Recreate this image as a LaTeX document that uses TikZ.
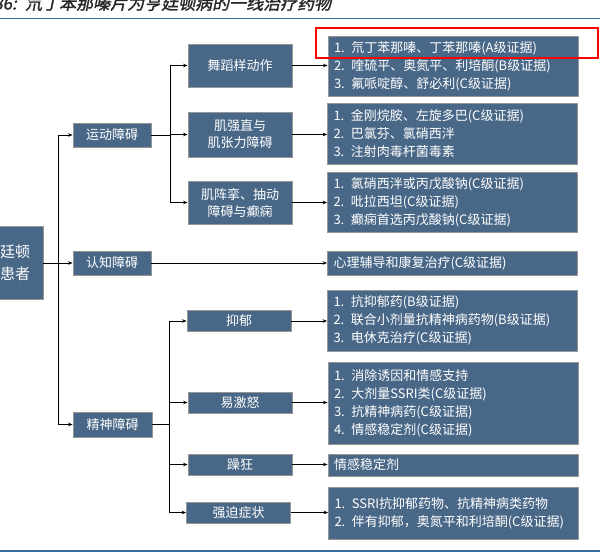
\documentclass[tikz,border=0pt]{standalone}
\usepackage{fontspec}
\setmainfont{Noto Sans CJK SC}
\newfontfamily\titlefont[FakeSlant=0.2,FakeBold=1.5]{Noto Sans CJK SC}
\usetikzlibrary{arrows.meta}
\definecolor{boxblue}{RGB}{73,104,136}
\definecolor{boxedge}{RGB}{150,150,150}
\definecolor{rulecol}{RGB}{52,110,160}
\begin{document}
\begin{tikzpicture}[x=1pt,y=-1pt,
  box/.style={draw=boxedge, line width=0.8pt, fill=boxblue, text=white, inner sep=0pt,
    font=\fontsize{13}{17}\selectfont, align=center, minimum width=104pt},
  lbox/.style={draw=boxedge, line width=0.8pt, fill=boxblue, text=white, inner ysep=0pt, inner xsep=6pt,
    font=\fontsize{13}{18}\selectfont, align=left, text width=238pt},
  arr/.style={draw=black, line width=0.8pt, -{Stealth[length=4.5pt,width=3.5pt]}},
  ln/.style={draw=black, line width=0.8pt}]
\useasboundingbox (0,0) rectangle (600,558);

% title and rules
\node[anchor=base east, inner sep=0pt, font=\titlefont\fontsize{17}{18}\selectfont, text=black!85] (tnum) at (17,9.5) {图表86:};
\node[anchor=base west, inner sep=0pt, font=\titlefont\fontsize{17}{18}\selectfont, text=black!85] (ttl) at (25,9.5) {氘丁苯那嗪片为亨廷顿病的一线治疗药物};
\draw[rulecol, line width=1.6pt] (0,18.5) -- (600,18.5);
\draw[rulecol, line width=2pt] (0,551) -- (600,551);

% root
\node[box, minimum width=71pt, minimum height=73pt, font=\fontsize{15}{22}\selectfont] (pat) at (7.5,263) {亨廷顿\\病患者};

% level 2
\node[box, minimum width=78pt, minimum height=24pt] (motor) at (112,135) {运动障碍};
\node[box, minimum width=78pt, minimum height=24pt] (cog) at (112,263) {认知障碍};
\node[box, minimum width=79pt, minimum height=25pt] (psych) at (112.5,424.5) {精神障碍};

% level 3
\node[box, minimum height=43pt] (chorea) at (240,65.5) {舞蹈样动作};
\node[box, minimum height=45pt] (rigid) at (240,134.5) {肌强直与\\肌张力障碍};
\node[box, minimum height=43pt] (myo) at (240,202.5) {肌阵挛、抽动\\障碍与癫痫};
\node[box, minimum height=21pt] (dep) at (239,321) {抑郁};
\node[box, minimum height=21pt] (irrit) at (240,402.5) {易激怒};
\node[box, minimum height=21pt] (mania) at (240,464.5) {躁狂};
\node[box, minimum height=21pt] (ocd) at (238.5,512.5) {强迫症状};

% level 4
\node[lbox, minimum height=60pt] (L1) at (453,66) {1. 氘丁苯那嗪、丁苯那嗪(A级证据)\\2. 喹硫平、奥氮平、利培酮(B级证据)\\3. 氟哌啶醇、舒必利(C级证据)};
\node[lbox, minimum height=61pt] (L2) at (452.5,133.5) {1. 金刚烷胺、左旋多巴(C级证据)\\2. 巴氯芬、氯硝西泮\\3. 注射肉毒杆菌毒素};
\node[lbox, minimum height=60pt] (L3) at (452.5,202) {1. 氯硝西泮或丙戊酸钠(C级证据)\\2. 吡拉西坦(C级证据)\\3. 癫痫首选丙戊酸钠(C级证据)};
\node[lbox, minimum height=24pt] (L4) at (452.5,263) {心理辅导和康复治疗(C级证据)};
\node[lbox, minimum height=61pt] (L5) at (452.5,320.5) {1. 抗抑郁药(B级证据)\\2. 联合小剂量抗精神病药物(B级证据)\\3. 电休克治疗(C级证据)};
\node[lbox, minimum height=82pt] (L6) at (453,403) {1. 消除诱因和情感支持\\2. 大剂量SSRI类(C级证据)\\3. 抗精神病药(C级证据)\\4. 情感稳定剂(C级证据)};
\node[lbox, minimum height=22pt] (L7) at (453,465) {情感稳定剂};
\node[lbox, minimum height=52pt] (L8) at (453.5,513) {1. SSRI抗抑郁药物、抗精神病类药物\\2. 伴有抑郁，奥氮平和利培酮(C级证据)};

% highlight
\draw[red, line width=2pt] (316,28) rectangle (598,58);

% connectors
\coordinate (tr) at (58,263);
\draw[arr] (pat.east) -- (cog.west);
\draw[arr] (tr) |- (motor.west);
\draw[arr] (tr) |- (psych.west);

\coordinate (mb) at (170,135);
\draw[ln] (motor.east) -- (mb);
\draw[arr] (mb) |- (chorea.west);
\draw[arr] (mb) |- (rigid.west);
\draw[arr] (mb) |- (myo.west);

\coordinate (pb) at (169,424.5);
\draw[ln] (psych.east) -- (pb);
\draw[arr] (pb) |- (dep.west);
\draw[arr] (pb) |- (irrit.west);
\draw[arr] (pb) |- (mania.west);
\draw[arr] (pb) |- (ocd.west);

\draw[arr] (chorea.east) -- (chorea.east -| L1.west);
\draw[arr] (rigid.east) -- (rigid.east -| L2.west);
\draw[arr] (myo.east) -- (myo.east -| L3.west);
\draw[arr] (cog.east) -- (cog.east -| L4.west);
\draw[arr] (dep.east) -- (dep.east -| L5.west);
\draw[arr] (irrit.east) -- (irrit.east -| L6.west);
\draw[arr] (mania.east) -- (mania.east -| L7.west);
\draw[arr] (ocd.east) -- (ocd.east -| L8.west);
\end{tikzpicture}
\end{document}
